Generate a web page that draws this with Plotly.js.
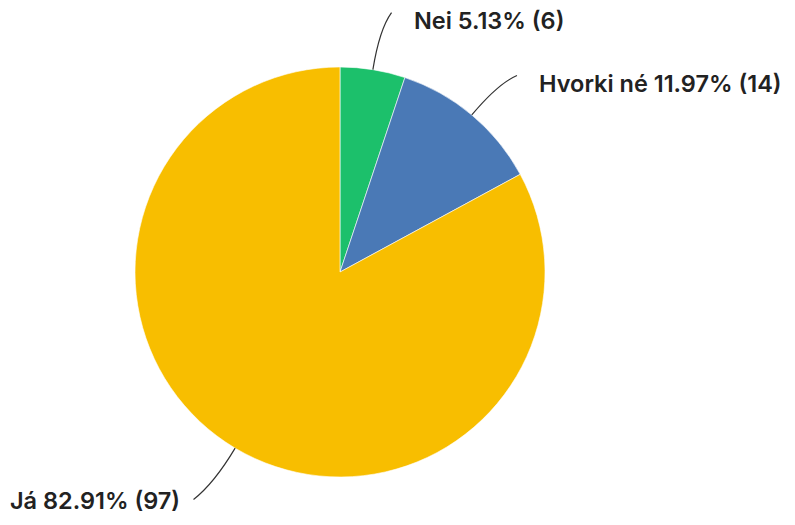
<!DOCTYPE html>
<html>
<head>
<meta charset="utf-8">
<script src="https://cdn.plot.ly/plotly-3.0.1.min.js"></script>
<style>html,body{margin:0;padding:0;background:#fff;}#chart{width:795px;height:525px;}</style>
</head>
<body>
<div id="chart"></div>
<script>
const categories = ["Nei", "Hvorki né", "Já"];
const counts = [6, 14, 97];
const percents = [5.13, 11.97, 82.91];
const colors = ["#1cc06b", "#4a79b6", "#f8be00"];

const W = 795, H = 525;
const cx = 340, cy = 272, R = 205;

const total = counts.reduce((a, b) => a + b, 0);
const shapes = [];
const annotations = [];
const px = x => x / W;
const py = y => 1 - y / H;

let cum = 0;
counts.forEach((c, i) => {
  const mid = (cum + c / 2) / total * 2 * Math.PI;
  cum += c;
  const s = Math.sin(mid), co = Math.cos(mid);
  const x0 = cx + R * s, y0 = cy - R * co;
  const xc = cx + 1.2 * R * s, yc = cy - 1.2 * R * co;
  const a2 = mid + 0.035;
  const right = s >= 0;
  const rf = right ? 1.29 : 1.32;
  const x1 = cx + rf * R * Math.sin(a2), y1 = cy - rf * R * Math.cos(a2);
  shapes.push({
    type: "path", xref: "paper", yref: "paper",
    path: `M ${px(x0)} ${py(y0)} Q ${px(xc)} ${py(yc)} ${px(x1)} ${py(y1)}`,
    line: {color: "#333", width: 1.2}
  });
  annotations.push({
    xref: "paper", yref: "paper",
    x: px(x1 + (right ? 20 : -12)), y: py(y1 + (right ? 8 : 1)),
    xanchor: right ? "left" : "right", yanchor: "middle",
    text: `${categories[i]} ${percents[i].toFixed(2)}% (${c})`,
    showarrow: false,
    font: {family: "Inter", size: 23.5, color: "#222", weight: 600}
  });
});

const data = [{
  type: "pie",
  labels: categories,
  values: counts,
  sort: false,
  direction: "clockwise",
  rotation: 0,
  textinfo: "none",
  hoverinfo: "label+percent",
  marker: {colors: colors, line: {color: "#ffffff", width: 0.6}},
  domain: {x: [(cx - R) / W, (cx + R) / W], y: [(H - cy - R) / H, (H - cy + R) / H]},
  showlegend: false
}];

const layout = {
  width: W, height: H,
  margin: {l: 0, r: 0, t: 0, b: 0},
  paper_bgcolor: "#fff",
  shapes: shapes,
  annotations: annotations,
  showlegend: false
};

Plotly.newPlot("chart", data, layout, {displayModeBar: false, staticPlot: true});
</script>
</body>
</html>
